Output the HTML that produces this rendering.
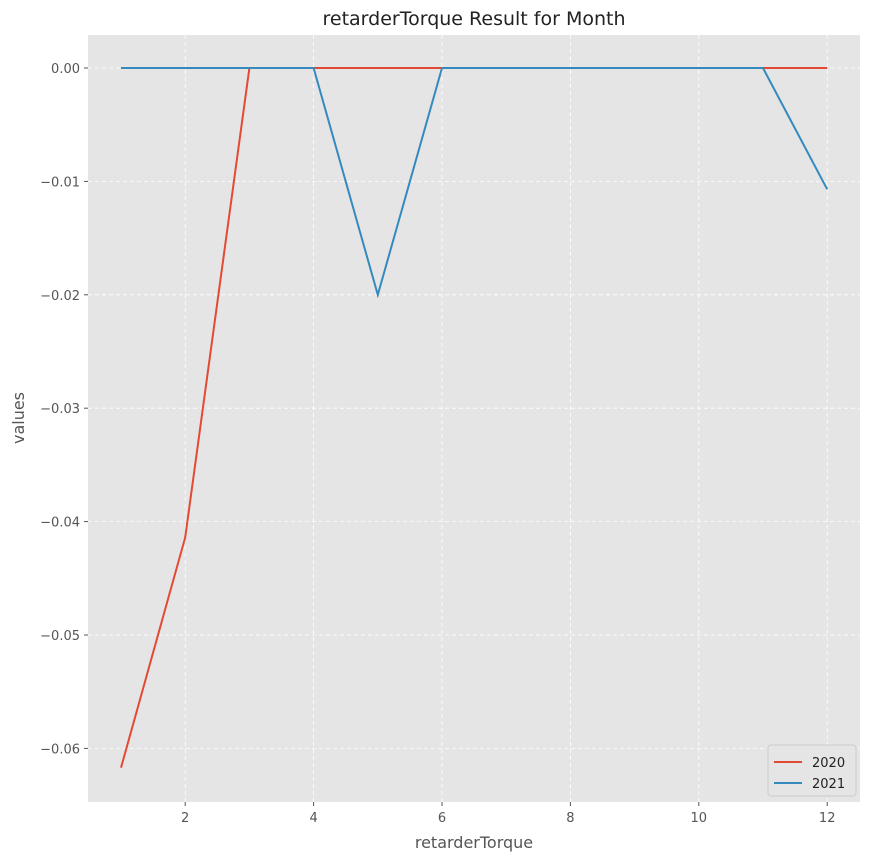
<!DOCTYPE html>
<html><head><meta charset="utf-8"><style>
body{margin:0;background:#fff;font-family:"Liberation Sans","DejaVu Sans",sans-serif}
svg text{font-family:"DejaVu Sans","Liberation Sans",sans-serif}
</style></head><body>
<svg id="chart" width="870" height="860" xmlns="http://www.w3.org/2000/svg">
<rect x="0" y="0" width="870" height="860" fill="#fff"/>
<rect x="88" y="35" width="772" height="767" fill="#e5e5e5"/>
<g id="grid"></g><g id="ticks"></g><g id="lines"></g>
<text x="474" y="25" text-anchor="middle" font-size="19" fill="#222">retarderTorque Result for Month</text>
<text x="474" y="848" text-anchor="middle" font-size="16" fill="#555">retarderTorque</text>
<text x="24" y="418" text-anchor="middle" font-size="16" fill="#555" transform="rotate(-90 24 418)">values</text>
<g>
<rect x="768" y="745" width="88" height="51" rx="3" fill="#e5e5e5" stroke="#ccc"/>
<line x1="774" y1="762" x2="802" y2="762" stroke="#E24A33" stroke-width="2"/>
<text x="812" y="767" font-size="13" fill="#222">2020</text>
<line x1="774" y1="783" x2="802" y2="783" stroke="#348ABD" stroke-width="2"/>
<text x="812" y="788" font-size="13" fill="#222">2021</text>
</g>
</svg>
<script>
const months=[1,2,3,4,5,6,7,8,9,10,11,12];
const values2020=[-0.0617,-0.0414,0,0,0,0,0,0,0,0,0,0];
const values2021=[0,0,0,0,-0.02,0,0,0,0,0,0,-0.0107];
const xTicks=[2,4,6,8,10,12];
const yTicks=[0,-0.01,-0.02,-0.03,-0.04,-0.05,-0.06];
const yTickLabels=["0.00","\u22120.01","\u22120.02","\u22120.03","\u22120.04","\u22120.05","\u22120.06"];
const NS="http://www.w3.org/2000/svg";
const X=v=>121+(v-1)*64.2;
const Y=v=>68-v*11340;
function mk(t,a,p){const e=document.createElementNS(NS,t);for(const k in a)e.setAttribute(k,a[k]);p.appendChild(e);return e;}
const g=document.getElementById('grid'),tk=document.getElementById('ticks'),ln=document.getElementById('lines');
xTicks.forEach(v=>{
 const l=mk('line',{x1:X(v),x2:X(v),y1:35,y2:802,stroke:'#fff','stroke-dasharray':'4,3','stroke-width':0.8},g);
 
 
 mk('line',{x1:X(v),x2:X(v),y1:802,y2:806,stroke:'#555'},tk);
 const t=mk('text',{x:X(v),y:822,'text-anchor':'middle','font-size':13,fill:'#555'},tk);t.textContent=v;
 
 
});
yTicks.forEach((v,i)=>{
 const l=mk('line',{x1:88,x2:860,y1:Y(v),y2:Y(v),stroke:'#fff','stroke-dasharray':'4,3','stroke-width':0.8},g);
 
 
 mk('line',{x1:84,x2:88,y1:Y(v),y2:Y(v),stroke:'#555'},tk);
 const t=mk('text',{x:80,y:Y(v)+5,'text-anchor':'end','font-size':13,fill:'#555'},tk);t.textContent=yTickLabels[i];
 
 
});
[[values2020,'#E24A33','line-2020'],[values2021,'#348ABD','line-2021']].forEach(([vals,c,n])=>{
 const p=mk('polyline',{points:vals.map((v,i)=>X(months[i])+','+Y(v)).join(' '),fill:'none',stroke:c,'stroke-width':2},ln);
 
 
});
</script>
</body></html>
